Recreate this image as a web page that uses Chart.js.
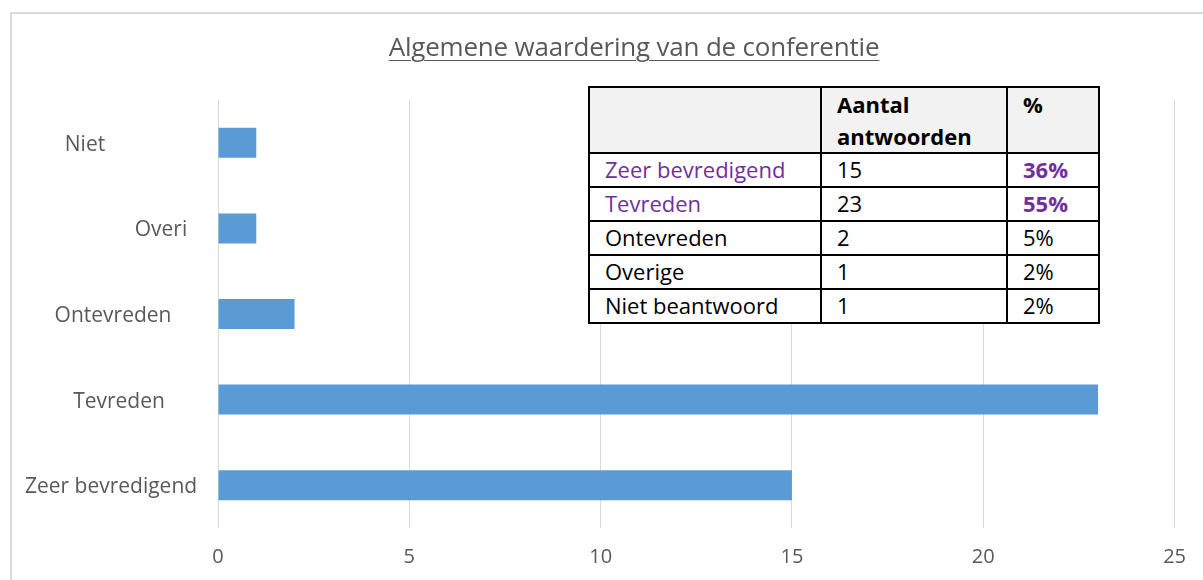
<!DOCTYPE html>
<html>
<head>
<meta charset="utf-8">
<script src="https://cdn.jsdelivr.net/npm/chart.js@4/dist/chart.umd.min.js"></script>
<style>
  html, body { margin:0; padding:0; background:#fff; }
  body { width:1203px; height:580px; overflow:hidden; position:relative; font-family: "Open Sans", Lato, sans-serif; }
  #frame { position:absolute; left:10px; top:12px; width:1260px; height:620px; border:2px solid #d9d9d9; box-sizing:border-box; }
  #c { position:absolute; left:0; top:0; }
  #title { position:absolute; left:0; width:1268px; top:28px; text-align:center; font-size:26px; color:#595959; letter-spacing:-0.2px; }
  #title span { text-decoration:underline; text-underline-offset:4px; text-decoration-thickness:1px; }
  table { position:absolute; left:588px; top:86px; border-collapse:collapse; font-size:22px; color:#000; background:#fff; }
  td { border:2px solid #000; padding:0 0 0 15px; height:32px; line-height:30px; vertical-align:top; white-space:nowrap; }
  tr.head td { background:#f2f2f2; height:64px; font-weight:bold; padding-top:0; line-height:32px; }
  .purple { color:#7030a0; }
  .bold { font-weight:bold; }
</style>
</head>
<body>
<div id="frame"></div>
<canvas id="c" width="1203" height="580"></canvas>
<div id="title"><span>Algemene waardering van de conferentie</span></div>
<table id="tbl"></table>
<script>
// chart data (top to bottom as displayed)
const categories = ["Niet", "Overi", "Ontevreden", "Tevreden", "Zeer bevredigend"];
const counts = [1, 1, 2, 23, 15];
const xTicks = [0, 5, 10, 15, 20, 25];

// table data
const tableHeader = ["", "Aantal<br>antwoorden", "%"];
const tableLabels = ["Zeer bevredigend", "Tevreden", "Ontevreden", "Overige", "Niet beantwoord"];
const tableCounts = [15, 23, 2, 1, 1];
const tablePercents = ["36%", "55%", "5%", "2%", "2%"];
const tableHighlight = [true, true, false, false, false];

// build table
const tbl = document.getElementById('tbl');
const colW = [232, 186, 92];
let html = '<tr class="head">' + tableHeader.map((h, i) => `<td style="width:${colW[i]-17}px">${h}</td>`).join('') + '</tr>';
tableLabels.forEach((l, i) => {
  const p = tableHighlight[i] ? ' class="purple"' : '';
  const pp = tableHighlight[i] ? ' class="purple bold"' : '';
  html += `<tr><td${p}>${l}</td><td>${tableCounts[i]}</td><td${pp}>${tablePercents[i]}</td></tr>`;
});
tbl.innerHTML = html;

// y label horizontal centres (Excel-like truncated label placement)
const labelCenters = [85, 161, 113, 119, 111];
const FONT = '"Open Sans", Lato, sans-serif';

const yLabelPlugin = {
  id: 'yLabels',
  afterDraw(chart) {
    const ctx = chart.ctx;
    const ys = chart.scales.y;
    ctx.save();
    ctx.font = '21px ' + FONT;
    ctx.fillStyle = '#595959';
    ctx.textAlign = 'center';
    ctx.textBaseline = 'middle';
    categories.forEach((c, i) => {
      ctx.fillText(c, labelCenters[i], ys.getPixelForValue(i) + 2);
    });
    ctx.restore();
  }
};

new Chart(document.getElementById('c'), {
  type: 'bar',
  data: {
    labels: categories,
    datasets: [{
      data: counts,
      backgroundColor: '#5b9bd5',
      borderWidth: 0,
      barPercentage: 0.7,
      categoryPercentage: 0.5
    }]
  },
  options: {
    indexAxis: 'y',
    responsive: false,
    animation: false,
    layout: { padding: { left: 0, right: 27, top: 100, bottom: 0 } },
    plugins: { legend: { display: false }, tooltip: { enabled: false }, title: { display: false } },
    scales: {
      x: {
        min: 0, max: 25,
        afterBuildTicks(s) { s.ticks = xTicks.map(v => ({ value: v })); },
        afterFit(s) { s.height = 52; },
        border: { display: false },
        grid: { color: '#d9d9d9', lineWidth: 1, drawTicks: false },
        ticks: { color: '#595959', font: { family: FONT, size: 20 }, padding: 17 }
      },
      y: {
        afterFit(s) { s.width = 218; },
        border: { display: false },
        grid: { display: false },
        ticks: { display: false }
      }
    }
  },
  plugins: [yLabelPlugin]
});
</script>
</body>
</html>
